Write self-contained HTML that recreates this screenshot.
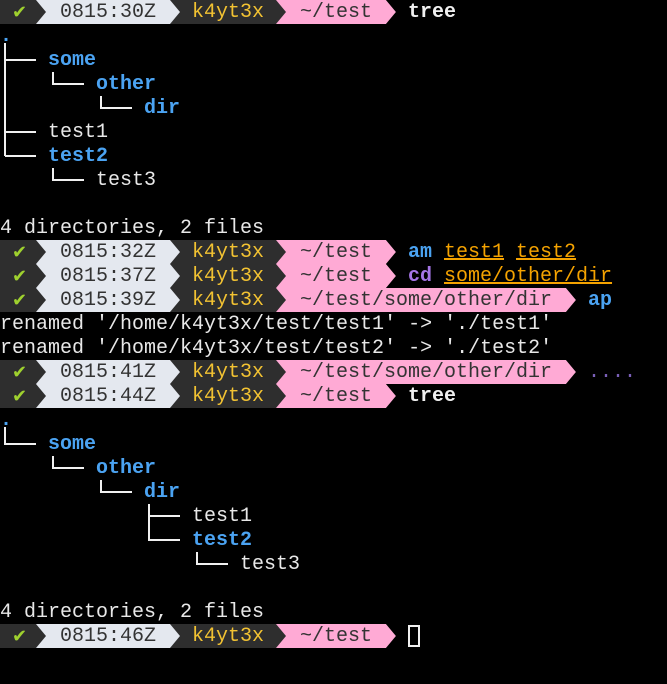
<!DOCTYPE html>
<html><head><meta charset="utf-8"><style>
html,body{margin:0;padding:0;background:#000;width:667px;height:684px;overflow:hidden}
body{position:relative;font-family:"Liberation Mono","DejaVu Sans Mono",monospace;font-size:20px;color:#e8e8e8}
.l{position:absolute;left:0;height:24px;line-height:26px;white-space:pre;width:667px}
.l span{position:absolute;top:0}
.l svg{position:absolute;left:0;top:0}
.ck{color:#9fd12e;font-family:"DejaVu Sans",sans-serif;font-size:18px}
.t{color:#333}
.u{color:#f2c232}
.d{color:#333}
.b{color:#4ba3f2;font-weight:bold}
.o{color:#f5a300;text-decoration:underline}
.pu{color:#a575e6;font-weight:bold}
.w{color:#f0f0f0;font-weight:bold}
#tree{position:absolute;left:0;top:0}
</style></head><body>

<svg id="tree" width="667" height="684" stroke="#f0f0f0" stroke-width="2" fill="none">
<path d="M5 43V156M5 60H36M5 132H36M5 156H36"/>
<path d="M53 72V84H84M101 96V108H132M53 168V180H84"/>
<path d="M5 427V444H36M53 456V468H84M101 480V492H132M149 504V540H180M149 516H180M197 552V564H228"/>
</svg>

<div class="l" style="top:0"><svg width="667" height="24"><rect x="0" y="0" width="400" height="24" fill="#2e2e2e"/><polygon points="36,0 170,0 180,12 170,24 36,24 46,12" fill="#e4e8ef"/><polygon points="276,0 386,0 396,12 386,24 276,24 286,12" fill="#ffaad5"/><polygon points="386,0 400,0 400,24 386,24 396,12" fill="#000"/></svg><span class="ck" style="left:12px">✔</span><span class="t" style="left:60px">0815:30Z</span><span class="u" style="left:192px">k4yt3x</span><span class="d" style="left:300px">~/test</span><span class="w" style="left:408px">tree</span></div>

<div class="l" style="top:24px"><span class="b" style="left:0">.</span></div>
<div class="l" style="top:48px"><span class="b" style="left:48px">some</span></div>
<div class="l" style="top:72px"><span class="b" style="left:96px">other</span></div>
<div class="l" style="top:96px"><span class="b" style="left:144px">dir</span></div>
<div class="l" style="top:120px"><span style="left:48px">test1</span></div>
<div class="l" style="top:144px"><span class="b" style="left:48px">test2</span></div>
<div class="l" style="top:168px"><span style="left:96px">test3</span></div>
<div class="l" style="top:216px">4 directories, 2 files</div>

<div class="l" style="top:240px"><svg width="667" height="24"><rect x="0" y="0" width="400" height="24" fill="#2e2e2e"/><polygon points="36,0 170,0 180,12 170,24 36,24 46,12" fill="#e4e8ef"/><polygon points="276,0 386,0 396,12 386,24 276,24 286,12" fill="#ffaad5"/><polygon points="386,0 400,0 400,24 386,24 396,12" fill="#000"/></svg><span class="ck" style="left:12px">✔</span><span class="t" style="left:60px">0815:32Z</span><span class="u" style="left:192px">k4yt3x</span><span class="d" style="left:300px">~/test</span><span class="b" style="left:408px">am</span><span class="o" style="left:444px">test1</span><span class="o" style="left:516px">test2</span></div>

<div class="l" style="top:264px"><svg width="667" height="24"><rect x="0" y="0" width="400" height="24" fill="#2e2e2e"/><polygon points="36,0 170,0 180,12 170,24 36,24 46,12" fill="#e4e8ef"/><polygon points="276,0 386,0 396,12 386,24 276,24 286,12" fill="#ffaad5"/><polygon points="386,0 400,0 400,24 386,24 396,12" fill="#000"/></svg><span class="ck" style="left:12px">✔</span><span class="t" style="left:60px">0815:37Z</span><span class="u" style="left:192px">k4yt3x</span><span class="d" style="left:300px">~/test</span><span class="pu" style="left:408px">cd</span><span class="o" style="left:444px">some/other/dir</span></div>

<div class="l" style="top:288px"><svg width="667" height="24"><rect x="0" y="0" width="580" height="24" fill="#2e2e2e"/><polygon points="36,0 170,0 180,12 170,24 36,24 46,12" fill="#e4e8ef"/><polygon points="276,0 566,0 576,12 566,24 276,24 286,12" fill="#ffaad5"/><polygon points="566,0 580,0 580,24 566,24 576,12" fill="#000"/></svg><span class="ck" style="left:12px">✔</span><span class="t" style="left:60px">0815:39Z</span><span class="u" style="left:192px">k4yt3x</span><span class="d" style="left:300px">~/test/some/other/dir</span><span class="b" style="left:588px">ap</span></div>

<div class="l" style="top:312px">renamed '/home/k4yt3x/test/test1' -&gt; './test1'</div>
<div class="l" style="top:336px">renamed '/home/k4yt3x/test/test2' -&gt; './test2'</div>

<div class="l" style="top:360px"><svg width="667" height="24"><rect x="0" y="0" width="580" height="24" fill="#2e2e2e"/><polygon points="36,0 170,0 180,12 170,24 36,24 46,12" fill="#e4e8ef"/><polygon points="276,0 566,0 576,12 566,24 276,24 286,12" fill="#ffaad5"/><polygon points="566,0 580,0 580,24 566,24 576,12" fill="#000"/></svg><span class="ck" style="left:12px">✔</span><span class="t" style="left:60px">0815:41Z</span><span class="u" style="left:192px">k4yt3x</span><span class="d" style="left:300px">~/test/some/other/dir</span><span style="left:588px;color:#7a60b8">....</span></div>

<div class="l" style="top:384px"><svg width="667" height="24"><rect x="0" y="0" width="400" height="24" fill="#2e2e2e"/><polygon points="36,0 170,0 180,12 170,24 36,24 46,12" fill="#e4e8ef"/><polygon points="276,0 386,0 396,12 386,24 276,24 286,12" fill="#ffaad5"/><polygon points="386,0 400,0 400,24 386,24 396,12" fill="#000"/></svg><span class="ck" style="left:12px">✔</span><span class="t" style="left:60px">0815:44Z</span><span class="u" style="left:192px">k4yt3x</span><span class="d" style="left:300px">~/test</span><span class="w" style="left:408px">tree</span></div>

<div class="l" style="top:408px"><span class="b" style="left:0">.</span></div>
<div class="l" style="top:432px"><span class="b" style="left:48px">some</span></div>
<div class="l" style="top:456px"><span class="b" style="left:96px">other</span></div>
<div class="l" style="top:480px"><span class="b" style="left:144px">dir</span></div>
<div class="l" style="top:504px"><span style="left:192px">test1</span></div>
<div class="l" style="top:528px"><span class="b" style="left:192px">test2</span></div>
<div class="l" style="top:552px"><span style="left:240px">test3</span></div>
<div class="l" style="top:600px">4 directories, 2 files</div>

<div class="l" style="top:624px"><svg width="667" height="24"><rect x="0" y="0" width="400" height="24" fill="#2e2e2e"/><polygon points="36,0 170,0 180,12 170,24 36,24 46,12" fill="#e4e8ef"/><polygon points="276,0 386,0 396,12 386,24 276,24 286,12" fill="#ffaad5"/><polygon points="386,0 400,0 400,24 386,24 396,12" fill="#000"/><rect x="409" y="2" width="10" height="20" fill="none" stroke="#f0f0f0" stroke-width="2"/></svg><span class="ck" style="left:12px">✔</span><span class="t" style="left:60px">0815:46Z</span><span class="u" style="left:192px">k4yt3x</span><span class="d" style="left:300px">~/test</span></div>

</body></html>
